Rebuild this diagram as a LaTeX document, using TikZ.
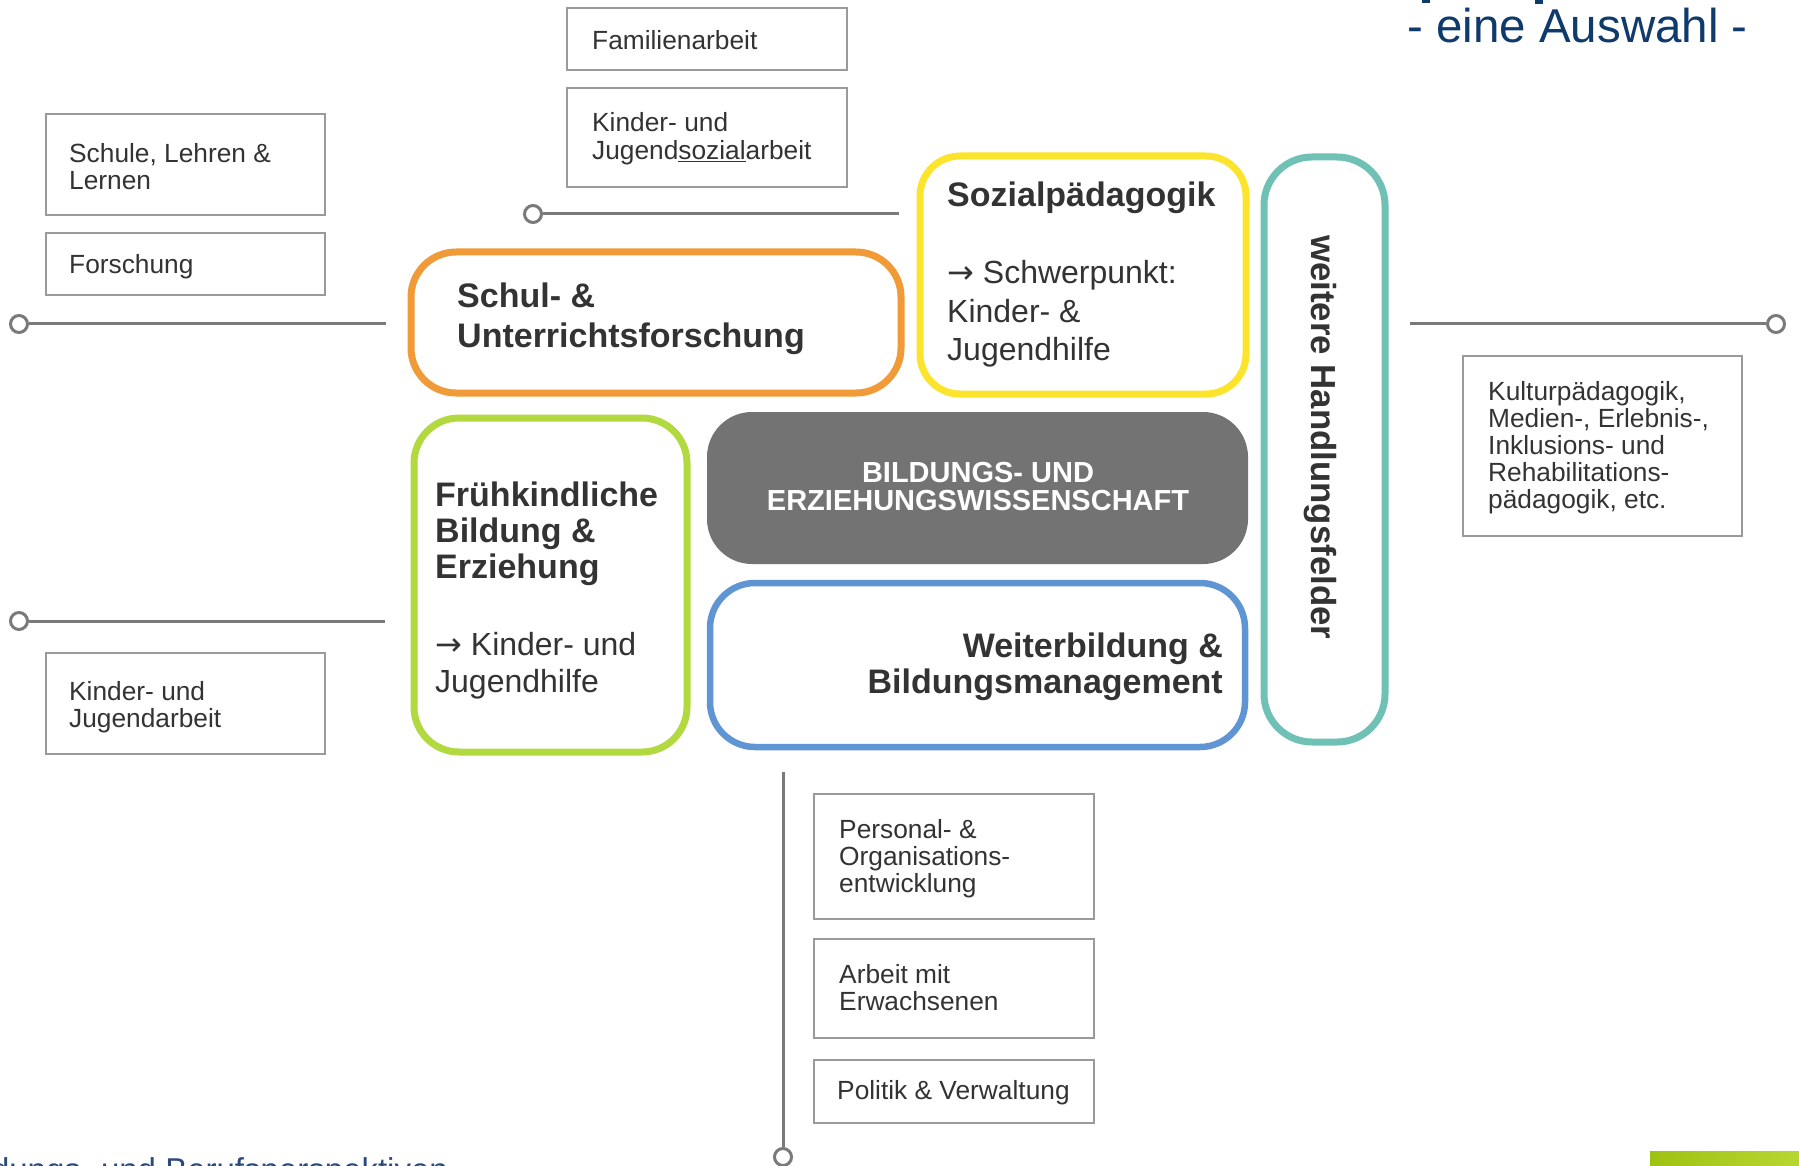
\documentclass[tikz,border=0pt]{standalone}
\usepackage{fontspec}
\setmainfont{Liberation Sans}
\newfontfamily\arrfont{DejaVu Sans}
\definecolor{cOrange}{HTML}{F09B38}
\definecolor{cYellow}{HTML}{FCE42C}
\definecolor{cTeal}{HTML}{70C1B5}
\definecolor{cGreen}{HTML}{B3D941}
\definecolor{cBlue}{HTML}{6095D4}
\definecolor{cDark}{HTML}{737373}
\definecolor{cText}{HTML}{333333}
\definecolor{cBorder}{HTML}{9A9A9A}
\definecolor{cLine}{HTML}{7A7A7A}
\definecolor{cNavy}{HTML}{0E3A6C}
\definecolor{cFoot}{HTML}{2A4A7A}
\definecolor{cLogoA}{HTML}{9EC212}
\definecolor{cLogoB}{HTML}{B8D632}
\newcommand{\fsz}[2]{\fontsize{#1}{#2}\selectfont}
\newcommand{\Ltab}[1]{\begin{tabular}[t]{@{}l@{}}#1\end{tabular}}
\newcommand{\Rtab}[1]{\begin{tabular}[t]{@{}r@{}}#1\end{tabular}}
\newcommand{\Ctab}[1]{\begin{tabular}[t]{@{}c@{}}#1\end{tabular}}
\newcommand{\arr}{{\arrfont →}}
\begin{document}
\begin{tikzpicture}[x=1pt,y=-1pt,
  rbox/.style={draw, line width=7pt, rounded corners=45pt, inner sep=0pt},
  sbox/.style={draw=cBorder, line width=2.6pt, inner sep=0pt},
  txt/.style={inner sep=0pt, anchor=base west, text=cText},
  small/.style={font=\fsz{26.3}{27}},
  head/.style={font=\bfseries\fsz{34}{36}},
  body/.style={font=\fsz{32}{38.5}},
  dot/.style={circle, draw=cLine, fill=white, line width=3pt, minimum size=17pt, inner sep=0pt},
  conn/.style={draw=cLine, line width=3pt}
]
\useasboundingbox (0,0) rectangle (1799,1166);
\fill[white] (0,0) rectangle (1799,1166);
\clip (0,0) rectangle (1799,1166);

% title remnants
\fill[cNavy] (1422,0) rectangle (1430,3);
\fill[cNavy] (1535,0) rectangle (1543,4);
\node[inner sep=0pt, anchor=base west, text=cNavy, font=\fsz{47.5}{50}] (title) at (1407,43) {- eine Auswahl -};

% connectors
\node[dot] (dTop) at (533,214) {};
\coordinate (eTop) at (899,214);
\node[dot] (dL1) at (19,324) {};
\coordinate (eL1) at (386,324);
\node[dot] (dL2) at (19,621) {};
\coordinate (eL2) at (385,621);
\node[dot] (dR) at (1776,324) {};
\coordinate (eR) at (1410,324);
\node[dot] (dB) at (783,1157) {};
\coordinate (eB) at (783,772);
\draw[conn] (dTop) -- (eTop);
\draw[conn] (dL1) -- (eL1);
\draw[conn] (dL2) -- (eL2);
\draw[conn] (dR) -- (eR);
\draw[conn] (dB) -- (eB);

% coloured boxes
\node[rbox, draw=cOrange, minimum width=490pt, minimum height=141pt] (schul) at (656,322.5) {};
\node[rbox, draw=cYellow, minimum width=326pt, minimum height=238pt, rounded corners=40pt] (sozial) at (1083,275) {};
\node[rbox, draw=cTeal, minimum width=121pt, minimum height=585pt, rounded corners=48pt] (weitere) at (1324.5,449.5) {};
\node[rbox, draw=none, fill=cDark, minimum width=541pt, minimum height=152pt] (bew) at (977.5,488) {};
\node[rbox, draw=cBlue, line width=6.5pt, minimum width=535pt, minimum height=164pt] (weiter) at (977.5,665) {};
\node[rbox, draw=cGreen, minimum width=273pt, minimum height=334pt] (frueh) at (550.5,585) {};

% texts of coloured boxes
\node[txt, font=\bfseries\fsz{34}{40}] (schulT) at (457,308) {\Ltab{Schul- \&\\Unterrichtsforschung}};
\node[txt, head] (sozT) at (947,207) {Sozialpädagogik};
\node[txt, body] (sozB) at (947,284) {\Ltab{\arr{} Schwerpunkt:\\Kinder- \&\\Jugendhilfe}};
\node[txt, head] (fruehT) at (435,506) {\Ltab{Frühkindliche\\Bildung \&\\Erziehung}};
\node[txt, font=\fsz{32}{37}] (fruehB) at (435,655) {\Ltab{\arr{} Kinder- und\\Jugendhilfe}};
\node[inner sep=0pt, anchor=base, text=white, font=\bfseries\fsz{29}{28}] (bewT) at (978,482) {\Ctab{BILDUNGS- UND\\ERZIEHUNGSWISSENSCHAFT}};
\node[inner sep=0pt, anchor=base east, text=cText, head] (weiterT) at (1223,657) {\Rtab{Weiterbildung \&\\Bildungsmanagement}};
\node[txt, font=\bfseries\fsz{34.8}{36}, rotate=-90] (weitereT) at (1311,235) {weitere Handlungsfelder};

% small boxes
\node[sbox, minimum width=280pt, minimum height=62pt] (fam) at (707,39) {};
\node[txt, small] (famT) at (592,50) {Familienarbeit};
\node[sbox, minimum width=280pt, minimum height=99pt] (kjs) at (707,137.5) {};
\node[txt, small] (kjsT) at (592,132) {\Ltab{Kinder- und\\Jugend\underline{sozial}arbeit}};
\node[sbox, minimum width=279pt, minimum height=101pt] (schule) at (185.5,164.5) {};
\node[txt, small] (schuleT) at (69,163) {\Ltab{Schule, Lehren \&\\Lernen}};
\node[sbox, minimum width=279pt, minimum height=62pt] (forsch) at (185.5,264) {};
\node[txt, small] (forschT) at (69,274) {Forschung};
\node[sbox, minimum width=279pt, minimum height=101pt] (kja) at (185.5,703.5) {};
\node[txt, small] (kjaT) at (69,700) {\Ltab{Kinder- und\\Jugendarbeit}};
\node[sbox, minimum width=279pt, minimum height=180pt] (kultur) at (1602.5,446) {};
\node[txt, small] (kulturT) at (1488,400) {\Ltab{Kulturpädagogik,\\Medien-, Erlebnis-,\\Inklusions- und\\Rehabilitations-\\pädagogik, etc.}};
\node[sbox, minimum width=280pt, minimum height=125pt] (pers) at (954,856.5) {};
\node[txt, small] (persT) at (839,838) {\Ltab{Personal- \&\\Organisations-\\entwicklung}};
\node[sbox, minimum width=280pt, minimum height=99pt] (erw) at (954,988.5) {};
\node[txt, small] (erwT) at (839,983) {\Ltab{Arbeit mit\\Erwachsenen}};
\node[sbox, minimum width=280pt, minimum height=63pt] (pol) at (954,1091.5) {};
\node[txt, small] (polT) at (837,1099) {Politik \& Verwaltung};

% footer remnants
\node[inner sep=0pt, anchor=base east, text=cFoot, font=\fsz{33}{36}] (foot) at (448,1181) {dungs- und Berufsperspektiven};
\shade[left color=cLogoA, right color=cLogoB] (1650,1151) rectangle (1799,1166);
\end{tikzpicture}
\end{document}
